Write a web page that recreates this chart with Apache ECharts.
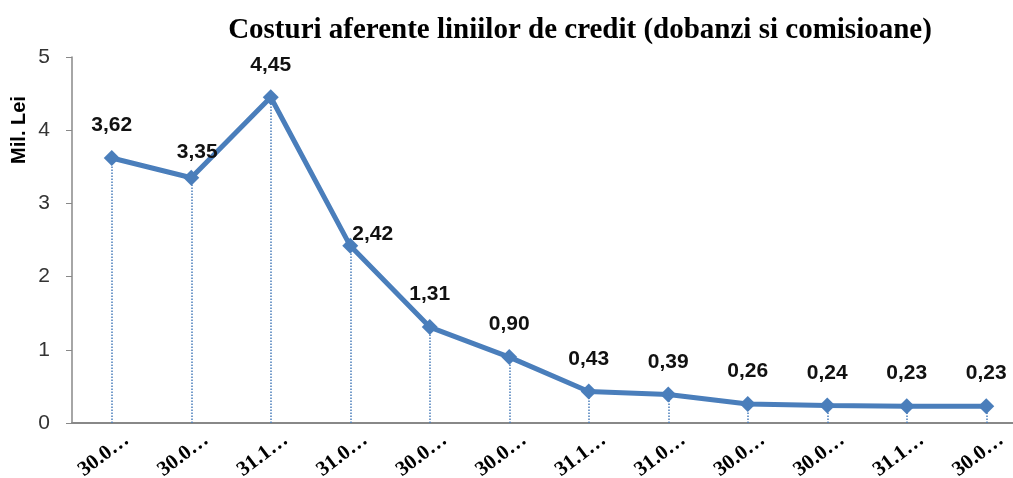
<!DOCTYPE html>
<html>
  <head>
    <meta charset="utf-8" />
    <title>Costuri aferente liniilor de credit</title>
    <script src="https://cdn.jsdelivr.net/npm/echarts@6/dist/echarts.min.js"></script>
    <style>
      html, body { margin: 0; padding: 0; background: #fff; }
      #chart { width: 1013px; height: 478px; }
    </style>
  </head>
  <body>
    <div id="chart"></div>
    <script type="text/javascript">
      // date de grafic
      var categories = ["30.0…", "30.0…", "31.1…", "31.0…", "30.0…", "30.0…",
                        "31.1…", "31.0…", "30.0…", "30.0…", "31.1…", "30.0…"];
      var values = [3.62, 3.35, 4.45, 2.42, 1.31, 0.90, 0.43, 0.39, 0.26, 0.24, 0.23, 0.23];
      var yTicks = [0, 1, 2, 3, 4, 5];

      var lineColor = "#4a7ebb";

      // linii punctate verticale de la punct la axa
      var dropLines = values.map(function (v, i) {
        return [{ coord: [i, 0] }, { coord: [i, v] }];
      });

      var seriesData = values.map(function (v, i) {
        var item = { value: v };
        if (i === 1) {
          item.label = { offset: [6, 7] };
        }
        if (i === 3) {
          item.label = { position: "right", offset: [-20, -12] };
        }
        return item;
      });

      var myChart = echarts.init(document.getElementById("chart"));
      var options = {
        animation: false,
        title: {
          text: "Costuri aferente liniilor de credit (dobanzi si comisioane)",
          left: 575,
          textAlign: "center",
          top: 11,
          textStyle: {
            fontFamily: "Liberation Serif",
            fontWeight: "bold",
            fontSize: 29,
            color: "#000",
          },
        },
        graphic: [
          {
            type: "text",
            x: 19,
            y: 130,
            rotation: Math.PI / 2,
            style: {
              text: "Mil. Lei",
              font: "bold 20px 'Liberation Sans', Arial, sans-serif",
              fill: "#000",
              align: "center",
              verticalAlign: "middle",
            },
          },
        ],
        grid: { left: 72, right: -13, top: 57, bottom: 55, outerBoundsMode: "none" },
        xAxis: {
          type: "category",
          data: categories,
          boundaryGap: true,
          axisLine: { lineStyle: { color: "#888", width: 2 } },
          axisTick: { show: false },
          axisLabel: {
            rotate: 37,
            interval: 0,
            margin: 26,
            align: "center",
            verticalAlign: "middle",
            padding: [0, 20, 0, 0],
            fontFamily: "Liberation Serif",
            fontWeight: "bold",
            fontSize: 21,
            color: "#000",
          },
        },
        yAxis: {
          type: "value",
          min: yTicks[0],
          max: yTicks[yTicks.length - 1],
          interval: 1,
          splitLine: { show: false },
          axisLine: { show: true, lineStyle: { color: "#888", width: 1.5 } },
          axisTick: { show: true, length: 6, lineStyle: { color: "#888" } },
          axisLabel: {
            margin: 22,
            fontFamily: "Liberation Sans",
            fontSize: 21,
            color: "#333",
          },
        },
        series: [
          {
            type: "line",
            data: seriesData,
            symbol: "diamond",
            symbolSize: 16,
            lineStyle: { color: lineColor, width: 5 },
            itemStyle: { color: lineColor },
            label: {
              show: true,
              position: "top",
              distance: 14,
              fontFamily: "Liberation Sans",
              fontWeight: "bold",
              fontSize: 21,
              color: "#111",
              formatter: function (p) {
                return p.value.toFixed(2).replace(".", ",");
              },
            },
            markLine: {
              silent: true,
              symbol: "none",
              label: { show: false },
              lineStyle: { color: lineColor, type: "dotted", width: 1.5 },
              data: dropLines,
            },
            z: 3,
          },
        ],
      };
      myChart.setOption(options);
    </script>
  </body>
</html>
